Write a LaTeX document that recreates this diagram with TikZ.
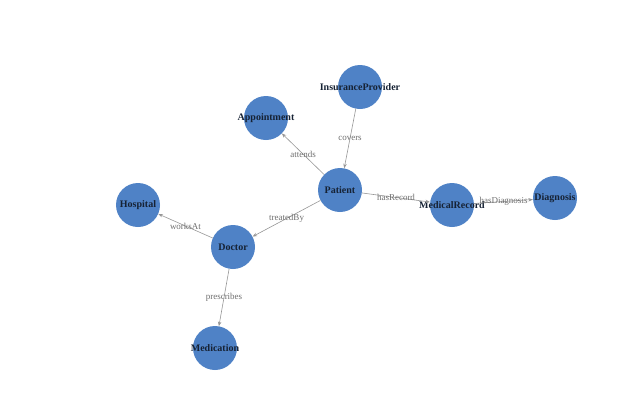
\documentclass[tikz,border=0pt]{standalone}
\usepackage{fontspec}
\setmainfont{Liberation Serif}
\usetikzlibrary{arrows.meta}
\definecolor{nodeblue}{RGB}{79,130,198}
\definecolor{nodetext}{RGB}{22,34,52}
\definecolor{edgegray}{RGB}{150,150,150}
\definecolor{labelgray}{RGB}{110,110,110}
\tikzset{
  ent/.style={circle, fill=nodeblue, minimum size=44pt, inner sep=0pt},
  entlab/.style={text=nodetext, font=\fontsize{10}{11}\selectfont\bfseries, inner sep=0pt},
  rel/.style={draw=edgegray, line width=0.6pt, -{Stealth[length=4.5pt,width=3.5pt]}},
  lab/.style={text=labelgray, font=\fontsize{9}{10}\selectfont, inner sep=1pt}
}
\begin{document}
\begin{tikzpicture}[x=1pt,y=-1pt]
\useasboundingbox (0,0) rectangle (640,400);
\node[ent, label={[entlab]center:InsuranceProvider}] (ins) at (360,87) {};
\node[ent, label={[entlab]center:Appointment}] (app) at (266,118) {};
\node[ent, label={[entlab]center:Patient}] (pat) at (340,190) {};
\node[ent, label={[entlab]center:MedicalRecord}] (med) at (452,205) {};
\node[ent, label={[entlab]center:Diagnosis}] (dia) at (555,198) {};
\node[ent, label={[entlab]center:Hospital}] (hos) at (138,205) {};
\node[ent, label={[entlab]center:Doctor}] (doc) at (233,247) {};
\node[ent, label={[entlab]center:Medication}] (mdc) at (215,348) {};
\draw[rel] (ins) -- node[lab] {covers} (pat);
\draw[rel] (pat) -- node[lab] {attends} (app);
\draw[rel] (pat) -- node[lab] {hasRecord} (med);
\draw[rel] (med) -- node[lab] {hasDiagnosis} (dia);
\draw[rel] (pat) -- node[lab] {treatedBy} (doc);
\draw[rel] (doc) -- node[lab] {worksAt} (hos);
\draw[rel] (doc) -- node[lab] {prescribes} (mdc);
\end{tikzpicture}
\end{document}
